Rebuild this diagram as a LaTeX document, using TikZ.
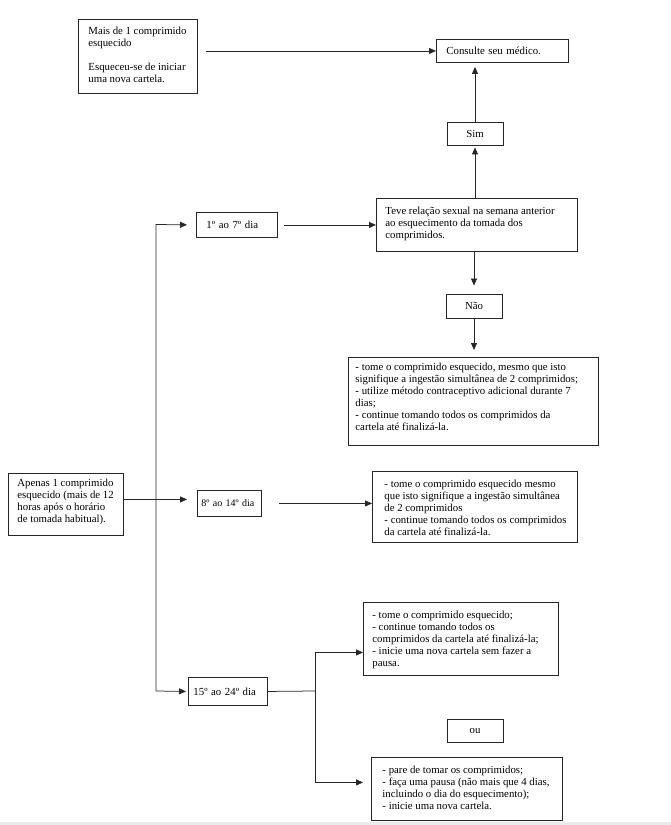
\documentclass[tikz,border=0pt]{standalone}
\usepackage{fontspec}
\setmainfont{Liberation Serif}
\usetikzlibrary{arrows.meta,positioning}

% text block of a box: width, height, lines
\newcommand{\notetext}[3]{\parbox[c][#2][t]{#1}{\makebox[#1][l]{\begin{tabular}[t]{@{}l@{}}#3\end{tabular}}}}

\tikzset{
  box/.style={draw=black!85, line width=0.9pt, anchor=north west, font=\fontsize{10.8}{12}\selectfont},
  smallbox/.style={box, anchor=center, inner sep=0pt, minimum width=56pt, minimum height=23pt},
  daybox/.style={box, align=left, inner ysep=0pt},
  link/.style={->, draw=black!85, line width=0.75pt}
}

\begin{document}
\begin{tikzpicture}[x=1pt, y=-1pt, >={Triangle[length=7pt,width=6pt]}]
    \useasboundingbox (0,0) rectangle (671,825);
    \fill[black!8] (0,822) rectangle (671,825);

    % top row
    \node[box, inner xsep=10pt, inner ysep=7pt] (mais) at (78,19)
      {\notetext{99pt}{60pt}{Mais de 1 comprimido\\ esquecido\\ \\ Esqueceu-se de iniciar\\ uma nova cartela.}};
    \node[daybox, text width=112pt, inner xsep=10pt, minimum height=23pt] (cons) at (436,39) {Consulte seu médico.};
    \node[smallbox] (sim) at (475,133.5) {Sim};

    % first week
    \node[daybox, text width=61pt, inner xsep=10pt, minimum height=25pt] (d1) at (196,212) {\mbox{1º ao 7º dia}};
    \node[box, inner xsep=9pt, inner ysep=7.5pt] (teve) at (376,198)
      {\notetext{183pt}{38pt}{Teve relação sexual na semana anterior\\ ao esquecimento da tomada dos\\ comprimidos.}};
    \node[smallbox, minimum height=24pt] (nao) at (474,306) {Não};
    \node[box, inner xsep=7pt, inner ysep=4.5pt] (r1) at (348,357)
      {\notetext{236pt}{79pt}{- tome o comprimido esquecido, mesmo que isto\\ signifique a ingestão simultânea de 2 comprimidos;\\ - utilize método contraceptivo adicional durante 7\\ dias;\\ - continue tomando todos os comprimidos da\\ cartela até finalizá-la.}};

    % second week
    \node[box, inner xsep=9pt, inner ysep=4.5pt] (apenas) at (8,473)
      {\notetext{97pt}{53pt}{Apenas 1 comprimido\\ esquecido (mais de 12\\ horas após o horário\\ de tomada habitual).}};
    \node[daybox, font=\fontsize{10}{12}\selectfont, text width=56pt, inner xsep=4pt, minimum height=26pt] (d2) at (197,490) {\mbox{8º ao 14º dia}};
    \node[box, inner xsep=12pt, inner ysep=7.5pt] (r2) at (372,471)
      {\notetext{181pt}{56pt}{- tome o comprimido esquecido mesmo\\ que isto signifique a ingestão simultânea\\ de 2 comprimidos\\ - continue tomando todos os comprimidos\\ da cartela até finalizá-la.}};

    % third week
    \node[daybox, text width=69pt, inner xsep=5pt, minimum height=28pt] (d3) at (188,677) {\mbox{15º ao 24º dia}};
    \node[box, inner xsep=9pt, inner ysep=7.5pt] (r3) at (363,602)
      {\notetext{177pt}{58pt}{- tome o comprimido esquecido;\\ - continue tomando todos os\\ comprimidos da cartela até finalizá-la;\\ - inicie uma nova cartela sem fazer a\\ pausa.}};
    \node[smallbox] (ou) at (475,730.5) {ou};
    \node[box, inner xsep=11pt, inner ysep=7.5pt] (r4) at (371,757)
      {\notetext{169pt}{48pt}{- pare de tomar os comprimidos;\\ - faça uma pausa (não mais que 4 dias,\\ incluindo o dia do esquecimento);\\ - inicie uma nova cartela.}};

    \coordinate (t1) at (156,224.5);
    \coordinate (t3) at (156,691);
    \coordinate (fk) at (315,691);

    % connectors
    \draw[link, shorten <=8pt] (mais.east |- cons.west) -- (cons.west);
    \draw[link, shorten >=4pt] (sim.north) -- (sim.north |- cons.south);
    \draw[link, shorten >=2pt] (sim.south |- teve.north) -- (sim.south);
    \draw[link, shorten <=6pt] (d1.east) -- (teve.west |- d1.east);
    \draw[link, shorten >=8pt] (nao.north |- teve.south) -- (nao.north);
    \draw[link, shorten >=7pt] (nao.south) -- (nao.south |- r1.north);

    \draw[link, shorten >=9pt] (t3) -- (t1) -- (d1.west);
    \draw[link, shorten >=2pt] (t3) -- (d3.west);
    \draw[link, shorten >=10pt] ([yshift=5pt]apenas.east) -- ([yshift=5pt]apenas.east -| d2.west);
    \draw[link, shorten <=17pt] (d2.east) -- (d2.east -| r2.west);

    \draw[draw=black!85, line width=0.75pt] (d3.east) -- (fk);
    \draw[link] (fk) |- ([yshift=-13.5pt]r3.west);
    \draw[link, shorten >=8pt] (fk) |- ([yshift=6.5pt]r4.west);
\end{tikzpicture}
\end{document}
